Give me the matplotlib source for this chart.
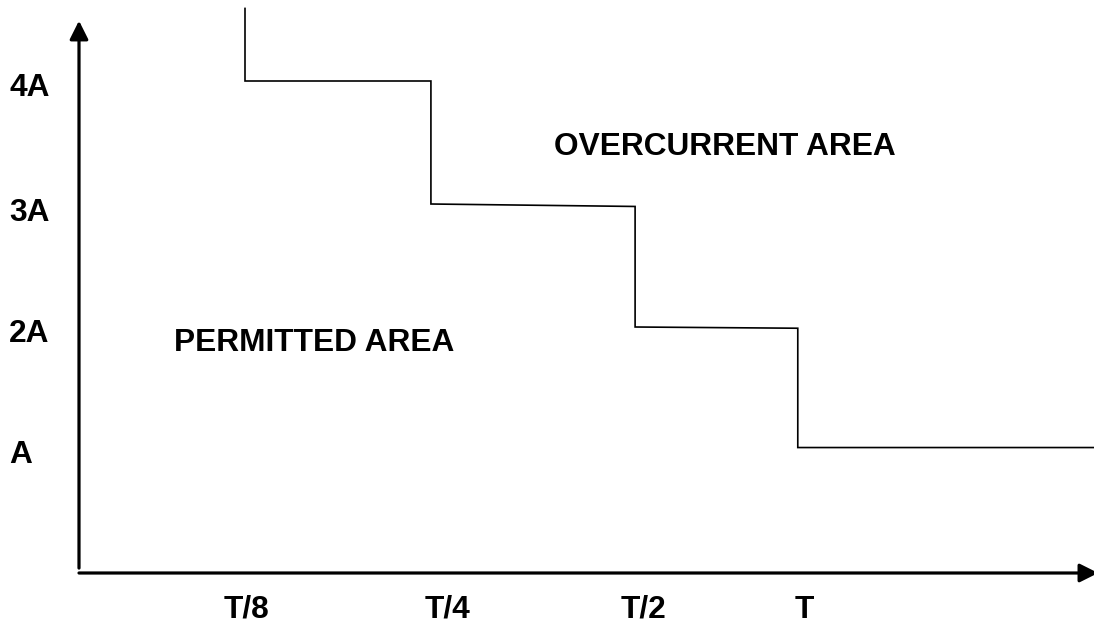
import numpy as np
import matplotlib
matplotlib.use("Agg")
import matplotlib.pyplot as plt

# time marks on the x axis and current levels on the y axis
time_labels = ["T/8", "T/4", "T/2", "T"]
time_pos = [1.01, 2.22, 3.4, 4.37]
level_labels = ["4A", "3A", "2A", "A"]
level_vals = [4.0, 2.99, 2.0, 1.02]

# step curve: (x, y) corners
step_x = [1.0, 1.0, 2.12, 2.12, 2.12, 3.35, 3.35, 4.33, 4.33, 4.35, 6.12]
step_y = [4.59, 4.0, 4.0, 3.04, 3.0, 2.98, 2.0, 1.99, 1.02, 1.02, 1.02]

plt.rcParams['font.family'] = ['Liberation Sans', 'DejaVu Sans']

fig = plt.figure(figsize=(10.94, 6.25), dpi=100)
ax = fig.add_axes([0, 0, 1, 1])
ax.set_xlim(-79 / 166, (1094 - 79) / 166)
ax.set_ylim(-52 / 123, 573 / 123)
ax.axis("off")

# axes with arrows
arr = dict(arrowstyle="-|>,head_length=0.8,head_width=0.4", lw=2.3,
           color="black", mutation_scale=14, shrinkA=0, shrinkB=0)
ax.annotate("", xy=(0, 4.49), xytext=(0, 0.04), arrowprops=arr,
            annotation_clip=False)
ax.annotate("", xy=(6.14, 0), xytext=(0, 0), arrowprops=arr,
            annotation_clip=False)

# the limit curve
ax.plot(step_x, step_y, color="black", lw=1.2, solid_joinstyle="miter")

# labels
fs = 22.8
for lab, v in zip(level_labels, level_vals):
    ax.text(-0.42, v - 0.06, lab, fontsize=fs, fontweight="bold",
            ha="left", va="center")
for lab, t in zip(time_labels, time_pos):
    ax.text(t, -0.3, lab, fontsize=fs, fontweight="bold",
            ha="center", va="center")

ax.text(0.57, 1.87, "PERMITTED AREA", fontsize=fs, fontweight="bold",
        ha="left", va="center")
ax.text(2.86, 3.46, "OVERCURRENT AREA", fontsize=fs, fontweight="bold",
        ha="left", va="center")

fig.savefig("out.png", dpi=100)
